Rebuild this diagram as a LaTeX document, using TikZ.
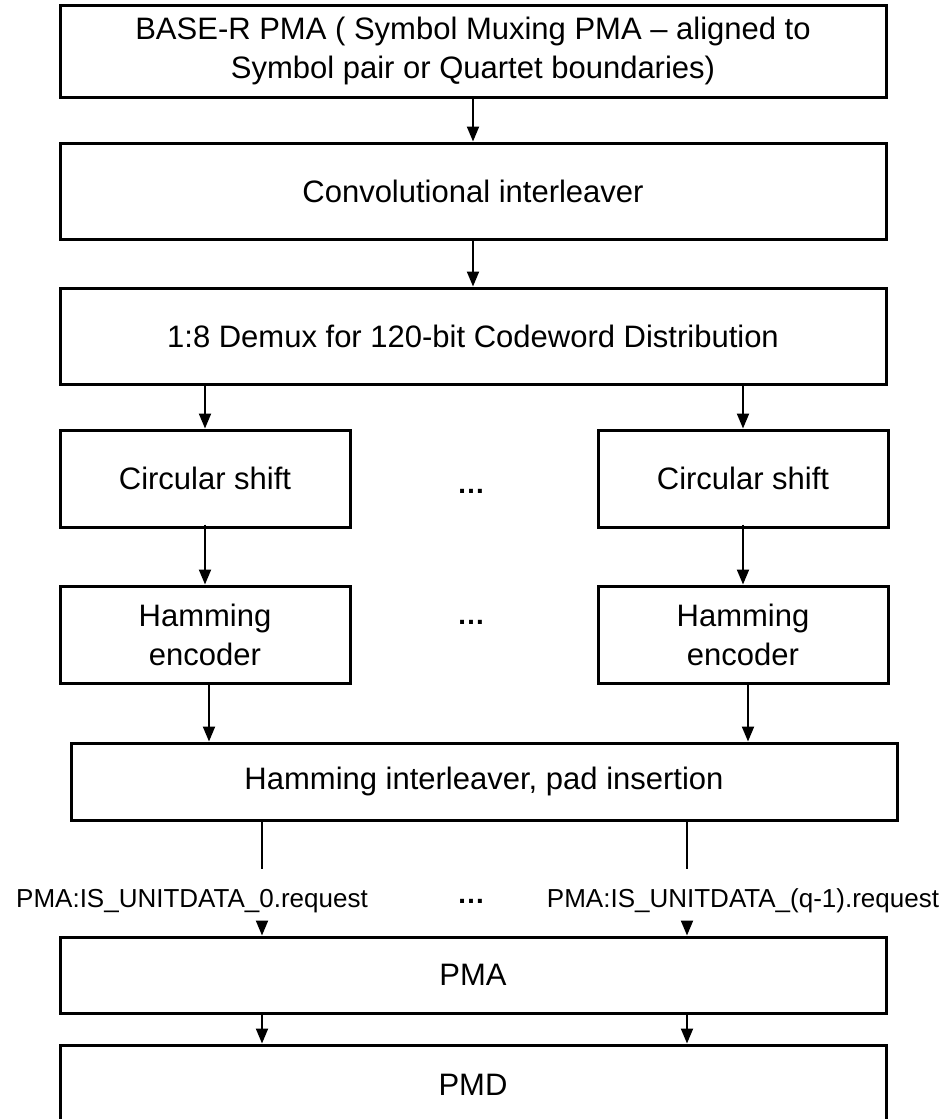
\documentclass[tikz,border=0pt]{standalone}
\usepackage{fontspec}
\setmainfont{Liberation Sans}
\usetikzlibrary{arrows.meta,calc}
\begin{document}
\begin{tikzpicture}[x=1pt,y=-1pt,
  blk/.style={draw, line width=3pt, inner sep=0pt, align=center,
              font=\fontsize{31}{39}\selectfont},
  wide/.style={blk, minimum width=826pt},
  small/.style={blk, minimum width=290pt, minimum height=97pt},
  arr/.style={line width=2pt, -{Triangle[length=15pt,width=12pt]}},
  wire/.style={line width=2pt},
  sig/.style={font=\fontsize{26}{30}\selectfont, inner sep=0pt},
  dots/.style={font=\fontsize{28}{28}\selectfont\bfseries, inner sep=0pt}]
\useasboundingbox (0,0) rectangle (948,1119);

% processing chain
\node[wide, minimum height=92pt] (base) at (473,51)
  {BASE-R PMA ( Symbol Muxing PMA – aligned to\\Symbol pair or Quartet boundaries)};
\node[wide, minimum height=96pt] (conv) at (473,191) {Convolutional interleaver};
\node[wide, minimum height=96pt] (demux) at (473,336)
  {1:8 Demux for 120-bit Codeword Distribution};
\node[small] (cs1) at (205,478.5) {Circular shift};
\node[small] (cs2) at (743,478.5) {Circular shift};
\node[small] (he1) at (205,634.5) {Hamming\\encoder};
\node[small] (he2) at (743,634.5) {Hamming\\encoder};
\node[blk, minimum width=826pt, minimum height=77pt] (inter) at (484,781.5)
  {Hamming interleaver, pad insertion};
\node[wide, minimum height=76pt] (pma) at (473,975) {PMA};
% the PMD block runs on past the lower edge
\node[wide, minimum height=80pt] (pmd) at (473,1085) {PMD};

\node[dots] (d1) at (471,491) {…};
\node[dots] (d2) at (471,622) {…};
\node[dots] (d3) at (471,901) {…};

% service primitive labels
\node[sig] (l0) at (192,901) {PMA:IS\_UNITDATA\_0.request};
\node[sig] (l1) at (743,901) {PMA:IS\_UNITDATA\_(q-1).request};

% connectors
\draw[arr] (base) -- (conv);
\draw[arr] (conv) -- (demux);
\draw[arr] (cs1.north |- demux.south) -- (cs1.north);
\draw[arr] (cs2.north |- demux.south) -- (cs2.north);
\draw[arr] ([yshift=4pt]cs1.south) -- (he1.north);
\draw[arr] ([yshift=4pt]cs2.south) -- (he2.north);
\draw[arr] ([xshift=4pt]he1.south) coordinate (h1) -- (h1 |- inter.north);
\draw[arr] ([xshift=5pt]he2.south) coordinate (h2) -- (h2 |- inter.north);
% interleaver outputs, broken around the primitive labels
\draw[wire] ([xshift=-222pt]inter.south) coordinate (s0) -- ($(s0 |- l0)+(0,-32)$);
\draw[wire] ([xshift=203pt]inter.south) coordinate (s1) -- ($(s1 |- l1)+(0,-32)$);
\draw[arr] ($(s0 |- l0)+(0,20)$) -- (s0 |- pma.north);
\draw[arr] ($(s1 |- l1)+(0,20)$) -- (s1 |- pma.north);
\draw[arr] (s0 |- pma.south) -- (s0 |- pmd.north);
\draw[arr] (s1 |- pma.south) -- (s1 |- pmd.north);
\end{tikzpicture}
\end{document}
